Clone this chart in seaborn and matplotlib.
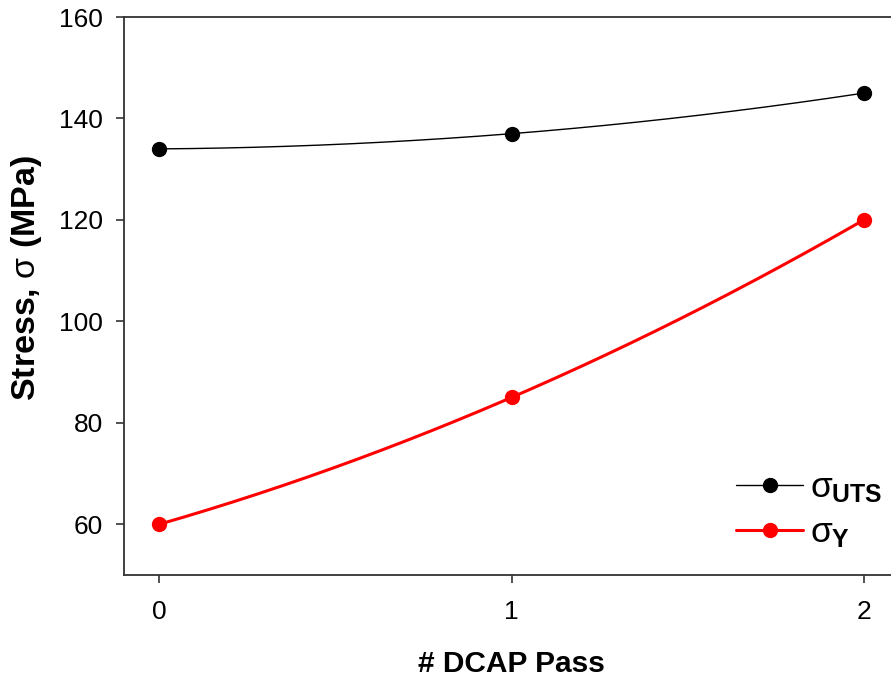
import numpy as np
import pandas as pd
import matplotlib
matplotlib.use("Agg")
import matplotlib.pyplot as plt
import seaborn as sns

# Data: stress vs number of DCAP passes
passes = [0, 1, 2]
uts = [134, 137, 145]
yield_stress = [60, 85, 120]
x_ticks = [0, 1, 2]
y_ticks = [60, 80, 100, 120, 140, 160]

sns.set_theme(style="ticks")
plt.rcParams["font.family"] = ["Liberation Sans", "DejaVu Sans"]
plt.rcParams["mathtext.fontset"] = "custom"
plt.rcParams["mathtext.rm"] = "Liberation Sans"
plt.rcParams["mathtext.it"] = "Liberation Sans"
plt.rcParams["mathtext.bf"] = "Liberation Sans:bold"
plt.rcParams["text.color"] = "black"
plt.rcParams["axes.labelcolor"] = "black"
plt.rcParams["xtick.color"] = "black"
plt.rcParams["ytick.color"] = "black"

fig = plt.figure(figsize=(8.91, 6.81), dpi=100)
# axes extend slightly past the right edge of the canvas
ax = fig.add_axes([124 / 891, 1 - 575 / 681, (899 - 124) / 891, (575 - 17) / 681])

df = pd.DataFrame({"passes": passes, "uts": uts, "ys": yield_stress})


def smooth(xs, ys):
    coef = np.polyfit(xs, ys, 2)
    xx = np.linspace(min(xs), max(xs), 200)
    return xx, np.polyval(coef, xx)


for col, color, lw, label in [
    ("uts", "black", 1.0, r"$\sigma_{\mathbf{UTS}}$"),
    ("ys", "#ff0000", 2.2, r"$\sigma_{\mathbf{Y}}$"),
]:
    xx, yy = smooth(df["passes"], df[col])
    sns.lineplot(x=xx, y=yy, ax=ax, color=color, linewidth=lw)
    ax.plot(df["passes"], df[col], color=color, linewidth=lw, marker="o",
            markersize=10, linestyle="none")
    ax.plot([], [], color=color, linewidth=lw, marker="o", markersize=10,
            label=label)

ax.set_xlim(-0.1, 2.1)
ax.set_ylim(50, 160)
ax.set_xticks(x_ticks)
ax.set_yticks(y_ticks)
ax.tick_params(direction="out", length=6, width=1.2, labelsize=19,
               color="#333333", labelcolor="black")
ax.tick_params(axis="x", pad=12)
ax.tick_params(axis="y", pad=9)
for side in ["left", "top", "bottom", "right"]:
    ax.spines[side].set_linewidth(1.3)
    ax.spines[side].set_color("#333333")

ax.set_xlabel("# DCAP Pass", fontsize=21.5, fontweight="bold", labelpad=19)
ax.set_ylabel(r"Stress, $\sigma$ (MPa)", fontsize=24.5, fontweight="bold")
ax.yaxis.set_label_coords(-0.103, 0.532)

ax.legend(loc="lower right", bbox_to_anchor=(1.02, -0.012), frameon=False,
          fontsize=25.5, handlelength=1.9, handletextpad=0.2, labelspacing=0.32)

fig.savefig("out.png", dpi=100)
